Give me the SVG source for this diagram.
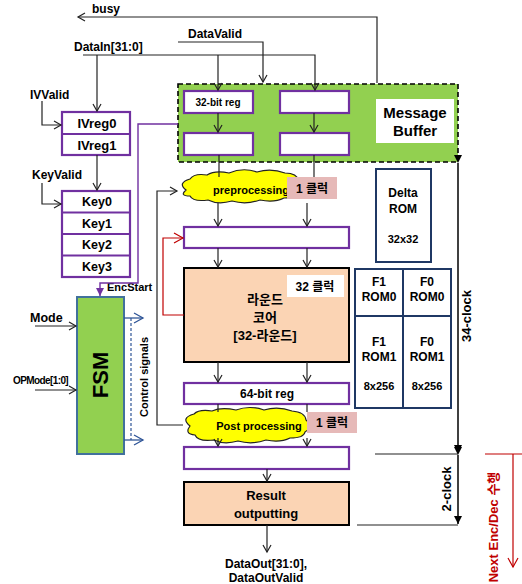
<svg xmlns="http://www.w3.org/2000/svg" width="522" height="584" viewBox="0 0 522 584">
<style>
text{font-family:"Liberation Sans","Noto Sans CJK KR",sans-serif;font-weight:bold;fill:#000}
.c{text-anchor:middle}
.ln{stroke:#222;stroke-width:1.2;fill:none}
.reg{fill:#fff;stroke:#7030a0;stroke-width:2.2}
.peach{fill:#fbd4b4;stroke:#000;stroke-width:2}
.rom{fill:#fff;stroke:#1f3864;stroke-width:2}
.pink{fill:#e6b9b8}
.cloud{fill:#ffff00;stroke:#222;stroke-width:1.2}
</style>
<defs>
<marker id="a" markerWidth="10" markerHeight="10" refX="8" refY="5" orient="auto" markerUnits="userSpaceOnUse"><path d="M1,1 L8,5 L1,9" fill="none" stroke="#222" stroke-width="1.2"/></marker>
<marker id="ab" markerWidth="12" markerHeight="12" refX="10" refY="6" orient="auto" markerUnits="userSpaceOnUse"><path d="M1,1 L10,6 L1,11" fill="none" stroke="#2f5597" stroke-width="1.3"/></marker>
<marker id="ar" markerWidth="12" markerHeight="12" refX="10" refY="6" orient="auto" markerUnits="userSpaceOnUse"><path d="M1,1 L10,6 L1,11" fill="none" stroke="#c00000" stroke-width="1.2"/></marker>
<marker id="ap" markerWidth="10" markerHeight="10" refX="8" refY="5" orient="auto" markerUnits="userSpaceOnUse"><path d="M0,1 L8,5 L0,9 z" fill="#7030a0"/></marker>
<marker id="af" markerWidth="10" markerHeight="10" refX="8" refY="5" orient="auto" markerUnits="userSpaceOnUse"><path d="M0,1 L8,5 L0,9 z" fill="#000"/></marker>
</defs>

<g id="message-buffer">
<rect x="178" y="84" width="280" height="78" fill="#92d050" stroke="#000" stroke-width="1.6" stroke-dasharray="5,3"/>
<rect x="376" y="99" width="78" height="44" fill="#fff"/>
<text x="415" y="118" class="c" font-size="15">Message</text>
<text x="415" y="136" class="c" font-size="15">Buffer</text>
<rect class="reg" x="184" y="91" width="69" height="22"/>
<text x="218" y="106" class="c" font-size="10">32-bit reg</text>
<rect class="reg" x="280" y="91" width="69" height="22"/>
<rect class="reg" x="184" y="133" width="69" height="22"/>
<rect class="reg" x="280" y="133" width="69" height="22"/>
</g>

<g id="ivreg">
<rect class="reg" x="62" y="112" width="68" height="43"/>
<line x1="62" y1="134" x2="130" y2="134" stroke="#7030a0" stroke-width="2.2"/>
<text x="97" y="128" class="c" font-size="13">IVreg0</text>
<text x="97" y="150" class="c" font-size="13">IVreg1</text>
</g>

<g id="keys">
<rect class="reg" x="62" y="191" width="68" height="86"/>
<line x1="62" y1="212.5" x2="130" y2="212.5" stroke="#7030a0" stroke-width="2.2"/>
<line x1="62" y1="234" x2="130" y2="234" stroke="#7030a0" stroke-width="2.2"/>
<line x1="62" y1="255.5" x2="130" y2="255.5" stroke="#7030a0" stroke-width="2.2"/>
<text x="97" y="206" class="c" font-size="12.5">Key0</text>
<text x="97" y="228" class="c" font-size="12.5">Key1</text>
<text x="97" y="249" class="c" font-size="12.5">Key2</text>
<text x="97" y="271" class="c" font-size="12.5">Key3</text>
</g>

<g id="fsm">
<rect x="77" y="297" width="47" height="157" fill="#92d050" stroke="#41719c" stroke-width="2"/>
<text transform="translate(108,375) rotate(-90)" class="c" font-size="22">FSM</text>
</g>

<g id="preprocessing">
<path class="cloud" d="M186,190 q-9,-7 4,-11 q4,-6 17,-4 q8,-5 22,-2 q14,-6 28,-1 q14,-4 28,1 q12,0 14,8 q7,6 -1,11 q0,6 -14,6 q-10,5 -24,2 q-14,5 -28,1 q-14,4 -24,-1 q-15,2 -18,-4 q-11,0 -4,-6 z"/>
<text x="251" y="194" class="c" font-size="11">preprocessing</text>
<rect class="pink" x="287" y="177" width="50" height="22"/>
<text x="312" y="193" class="c" font-size="12">1 클럭</text>
</g>

<g id="round-input-reg">
<rect class="reg" x="184" y="227" width="165" height="21"/>
</g>

<g id="round-core">
<rect class="peach" x="184" y="268" width="165" height="94"/>
<rect x="287" y="275" width="57" height="22" fill="#fff"/>
<text x="315" y="291" class="c" font-size="12">32 클럭</text>
<text x="265" y="304" class="c" font-size="13">라운드</text>
<text x="265" y="322" class="c" font-size="13">코어</text>
<text x="265" y="340" class="c" font-size="13">[32-라운드]</text>
</g>

<g id="reg64">
<rect class="reg" x="184" y="383" width="165" height="21"/>
<text x="267" y="398" class="c" font-size="12">64-bit reg</text>
</g>

<g id="postprocessing">
<path class="cloud" d="M190,426 q-10,-8 4,-12 q5,-5 18,-3 q9,-4 24,-1 q14,-5 28,0 q14,-4 28,1 q13,1 14,9 q8,6 -1,12 q-1,6 -15,6 q-10,5 -24,2 q-14,5 -28,1 q-14,4 -24,-1 q-16,2 -19,-5 q-11,-1 -5,-9 z"/>
<text x="259" y="430" class="c" font-size="11">Post processing</text>
<rect class="pink" x="307" y="412" width="50" height="21"/>
<text x="332" y="427" class="c" font-size="12">1 클럭</text>
</g>

<g id="output-reg">
<rect class="reg" x="184" y="447" width="165" height="22"/>
</g>

<g id="result">
<rect class="peach" x="184" y="482" width="165" height="43"/>
<text x="266" y="500" class="c" font-size="13">Result</text>
<text x="266" y="518" class="c" font-size="13">outputting</text>
</g>

<g id="delta-rom">
<rect class="rom" x="376" y="169" width="55" height="93"/>
<text x="403" y="197" class="c" font-size="12">Delta</text>
<text x="403" y="213" class="c" font-size="12">ROM</text>
<text x="403" y="243" class="c" font-size="11" font-weight="normal">32x32</text>
</g>

<g id="f-rom">
<rect x="355" y="269" width="96" height="47" fill="#c6d9f1"/>
<rect class="rom" x="355" y="269" width="96" height="139" fill="none"/>
<line x1="403" y1="269" x2="403" y2="408" stroke="#1f3864" stroke-width="2"/>
<line x1="355" y1="316" x2="451" y2="316" stroke="#1f3864" stroke-width="2"/>
<text x="379" y="286" class="c" font-size="12">F1</text>
<text x="379" y="301" class="c" font-size="12">ROM0</text>
<text x="427" y="286" class="c" font-size="12">F0</text>
<text x="427" y="301" class="c" font-size="12">ROM0</text>
<text x="379" y="346" class="c" font-size="12">F1</text>
<text x="379" y="361" class="c" font-size="12">ROM1</text>
<text x="427" y="346" class="c" font-size="12">F0</text>
<text x="427" y="361" class="c" font-size="12">ROM1</text>
<text x="379" y="390" class="c" font-size="11">8x256</text>
<text x="427" y="390" class="c" font-size="11">8x256</text>
</g>

<g id="labels">
<text x="92" y="13" font-size="12">busy</text>
<text x="188" y="38" font-size="12">DataValid</text>
<text x="74" y="51" font-size="12">DataIn[31:0]</text>
<text x="30" y="99" font-size="12">IVValid</text>
<text x="32" y="179" font-size="12">KeyValid</text>
<text x="107" y="291" font-size="11">EncStart</text>
<text x="30" y="322" font-size="12.5">Mode</text>
<text x="13" y="384" font-size="10" letter-spacing="-0.6">OPMode[1:0]</text>
<text transform="translate(148,377) rotate(-90)" class="c" font-size="11">Control signals</text>
<text transform="translate(471,316) rotate(-90)" class="c" font-size="13">34-clock</text>
<text transform="translate(451,489) rotate(-90)" class="c" font-size="13">2-clock</text>
<text transform="translate(498,527) rotate(-90)" class="c" font-size="13" style="fill:#c00000">Next Enc/Dec 수행</text>
<text x="266" y="568" class="c" font-size="12">DataOut[31:0],</text>
<text x="266" y="582" class="c" font-size="12">DataOutValid</text>
</g>

<g id="connectors">
<polyline class="ln" points="377,83 377,17 78,17" marker-end="url(#a)"/>
<polyline class="ln" points="178,42 263,42 263,82" marker-end="url(#a)"/>
<polyline class="ln" points="83,55 315,55 315,90" marker-end="url(#a)"/>
<line class="ln" x1="218" y1="55" x2="218" y2="90" marker-end="url(#a)"/>
<line class="ln" x1="97" y1="55" x2="97" y2="111" marker-end="url(#a)"/>
<polyline class="ln" points="42,101 42,125 61,125" marker-end="url(#a)"/>
<line class="ln" x1="97" y1="155" x2="97" y2="190" marker-end="url(#a)"/>
<polyline class="ln" points="42,183 42,204 61,204" marker-end="url(#a)"/>
<polyline points="178,124 138,124 138,283 100,283 100,296" fill="none" stroke="#7030a0" stroke-width="1.4" marker-end="url(#ap)"/>
<line class="ln" x1="35" y1="326" x2="76" y2="326" marker-end="url(#a)"/>
<line class="ln" x1="35" y1="390" x2="76" y2="390" marker-end="url(#a)"/>
<line x1="124" y1="318" x2="143" y2="318" stroke="#2f5597" stroke-width="1.3" marker-end="url(#ab)"/>
<line x1="124" y1="440" x2="143" y2="440" stroke="#2f5597" stroke-width="1.3" marker-end="url(#ab)"/>
<line x1="131" y1="318" x2="131" y2="440" stroke="#2f5597" stroke-width="1.2" stroke-dasharray="3,2"/>
<line class="ln" x1="218" y1="113" x2="218" y2="132" marker-end="url(#a)"/>
<line class="ln" x1="314" y1="113" x2="314" y2="132" marker-end="url(#a)"/>
<line class="ln" x1="219" y1="155" x2="219" y2="177"/>
<line class="ln" x1="314" y1="155" x2="314" y2="177"/>
<line class="ln" x1="218" y1="203" x2="218" y2="226" marker-end="url(#a)"/>
<line class="ln" x1="307" y1="203" x2="307" y2="226" marker-end="url(#a)"/>
<polyline class="ln" points="183,425 157,425 157,191 177,191" marker-end="url(#a)"/>
<polyline points="184,315 163,315 163,238 183,238" fill="none" stroke="#c00000" stroke-width="1.2" marker-end="url(#ar)"/>
<line class="ln" x1="218" y1="248" x2="218" y2="267" marker-end="url(#a)"/>
<line class="ln" x1="307" y1="248" x2="307" y2="267" marker-end="url(#a)"/>
<line class="ln" x1="218" y1="362" x2="218" y2="382" marker-end="url(#a)"/>
<line class="ln" x1="307" y1="362" x2="307" y2="382" marker-end="url(#a)"/>
<line class="ln" x1="218" y1="404" x2="218" y2="412"/>
<line class="ln" x1="307" y1="404" x2="307" y2="412"/>
<line class="ln" x1="218" y1="438" x2="218" y2="446" marker-end="url(#a)"/>
<line class="ln" x1="307" y1="438" x2="307" y2="446" marker-end="url(#a)"/>
<line class="ln" x1="267" y1="469" x2="267" y2="481" marker-end="url(#a)"/>
<line class="ln" x1="267" y1="525" x2="267" y2="552" marker-end="url(#a)"/>
<line x1="458" y1="163" x2="458" y2="453" stroke="#000" stroke-width="1.5" marker-start="url(#af)" marker-end="url(#af)"/>
<line x1="375" y1="454" x2="458" y2="454" stroke="#222" stroke-width="1.2"/>
<line x1="458" y1="455" x2="458" y2="524" stroke="#000" stroke-width="1.5" marker-start="url(#af)" marker-end="url(#af)"/>
<line x1="357" y1="525" x2="458" y2="525" stroke="#222" stroke-width="1.2"/>
<polyline points="485,454 522,454" fill="none" stroke="#c00000" stroke-width="1.2"/>
<line x1="513" y1="454" x2="513" y2="567" stroke="#c00000" stroke-width="1.2" marker-end="url(#ar)"/>
</g>
</svg>
